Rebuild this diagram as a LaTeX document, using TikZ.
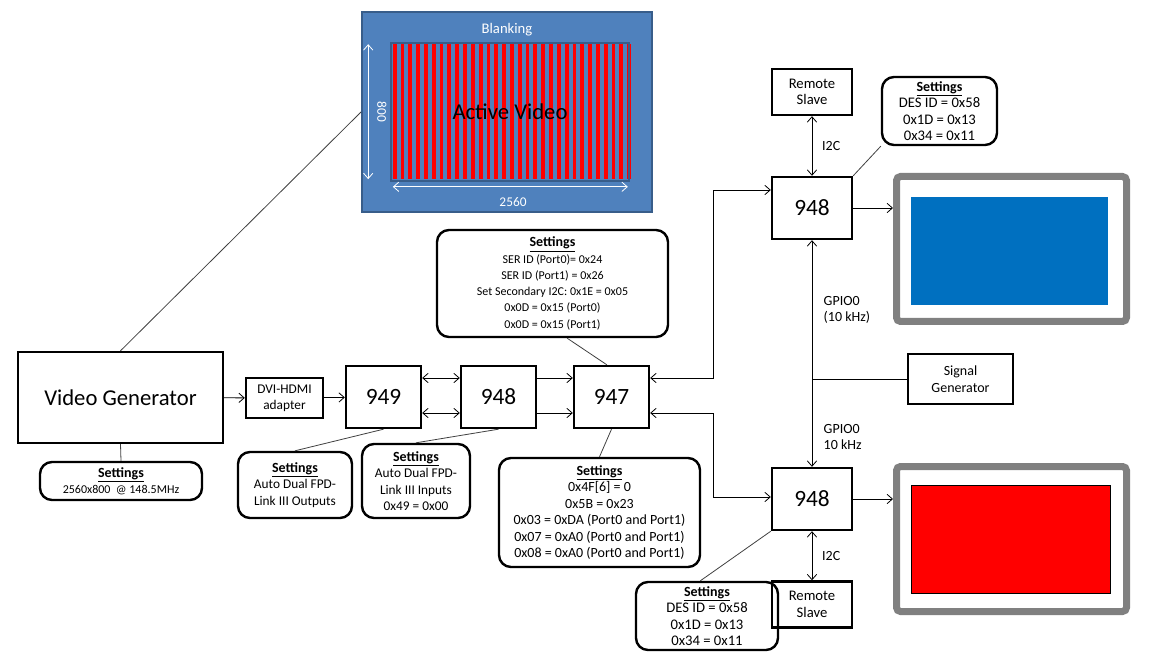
\documentclass[tikz,border=0pt]{standalone}
\usepackage{fontspec}
\setmainfont{Carlito}
\usetikzlibrary{arrows.meta,positioning,calc}

\definecolor{frameblue}{HTML}{4F81BD}
\definecolor{frameedge}{HTML}{385D8A}
\definecolor{screenblue}{HTML}{0070C0}
\definecolor{bezelgray}{HTML}{808080}

\newcommand{\sethead}{{\fontsize{10.5}{12.5}\selectfont\textbf{\underline{Settings}}}\\}

\begin{document}
\begin{tikzpicture}[
  x=0.75pt, y=0.75pt,
  blk/.style={rectangle,draw,line width=1.8pt,align=center},
  chip/.style={blk,minimum width=56.25pt,minimum height=46.5pt,font=\fontsize{17.5}{20}\selectfont},
  slave/.style={blk,minimum width=60pt,minimum height=34.5pt,font=\fontsize{11}{12.5}\selectfont},
  cfg/.style={rectangle,rounded corners=9pt,draw,line width=1.8pt,align=center,inner sep=2pt,font=\fontsize{9}{12.2}\selectfont},
  note/.style={font=\fontsize{10.5}{12.5}\selectfont,align=left,anchor=west},
  bezel/.style={rectangle,draw=bezelgray,line width=5.25pt,rounded corners=3pt,minimum width=172.5pt,minimum height=108.75pt},
  arr/.style={-{Straight Barb[length=4pt,width=7pt]},line width=0.6pt},
  darr/.style={{Straight Barb[length=4pt,width=7pt]}-{Straight Barb[length=4pt,width=7pt]},line width=0.6pt},
  lnk/.style={draw=black!75,line width=0.6pt}
]
\useasboundingbox (0,0) rectangle (1167,-666);

% video frame
\node[rectangle,draw=frameedge,fill=frameblue,line width=1.5pt,minimum width=217.5pt,minimum height=150pt] (frame) at (507,-112) {};
\foreach \i in {0,...,30}
  \fill[red] (392.7+\i*7.82,-44.5) rectangle ++(3.8,-135);
\node[rectangle,draw=frameedge,line width=1.2pt,minimum width=178.5pt,minimum height=103.5pt,font=\fontsize{17}{20}\selectfont] (active) at (510,-112) {Active Video};
\node[white,font=\fontsize{11}{13}\selectfont] (blank) at (507,-30) {Blanking};
\draw[white,darr] ([xshift=-16.5pt,yshift=-1.5pt]active.north west) -- ([xshift=-16.5pt,yshift=2pt]active.south west);
\draw[white,darr] ([xshift=2pt,yshift=-3.75pt]active.south west) -- ([xshift=-1.5pt,yshift=-3.75pt]active.south east);
\node[white,rotate=-90,font=\fontsize{10}{12}\selectfont] (vres) at (382,-112) {800};
\node[white,font=\fontsize{10}{12}\selectfont] (hres) at (513,-202) {2560};

% source side
\node[blk,minimum width=153.75pt,minimum height=68.25pt,font=\fontsize{17}{20}\selectfont] (vg) at (120.5,-397.5) {Video Generator};
\node[cfg,minimum width=121.5pt,minimum height=28.5pt] (svg) at (121,-481) {\sethead 2560x800~~@ 148.5MHz};
\node[blk,minimum width=57.75pt,minimum height=30pt,font=\fontsize{10}{12}\selectfont] (dvi) at (284.5,-398) {DVI-HDMI\\adapter};
\node[chip] (n949) at (383.5,-397) {949};
\node[chip] (n948) at (498.5,-397) {948};
\node[chip] (n947) at (611.5,-397) {947};

\node[cfg,minimum width=173.25pt,minimum height=80.25pt] (s947t) at (552.5,-283.5) {\sethead SER ID (Port0)= 0x24\\SER ID (Port1) = 0x26\\Set Secondary I2C: 0x1E = 0x05\\0x0D = 0x15 (Port0)\\0x0D = 0x15 (Port1)};
\node[cfg,minimum width=85.5pt,minimum height=49.5pt,font=\fontsize{10}{12.4}\selectfont] (s949) at (295,-485) {\sethead Auto Dual FPD-\\Link III Outputs};
\node[cfg,minimum width=81pt,minimum height=55.5pt,font=\fontsize{10}{12.4}\selectfont] (s948) at (416,-481) {\sethead Auto Dual FPD-\\Link III Inputs\\0x49 = 0x00};
\node[cfg,minimum width=150.75pt,minimum height=81.75pt,font=\fontsize{10.5}{12.4}\selectfont] (s947) at (599.5,-512.5) {\sethead 0x4F[6] = 0\\0x5B = 0x23\\0x03 = 0xDA (Port0 and Port1)\\0x07 = 0xA0 (Port0 and Port1)\\0x08 = 0xA0 (Port0 and Port1)};

% display side
\node[chip,minimum width=60pt] (r1) at (812,-208) {948};
\node[slave] (rs1) at (812,-92) {Remote\\Slave};
\node[cfg,minimum width=86.25pt,minimum height=51pt,font=\fontsize{11}{12.4}\selectfont] (sr1) at (939.5,-111) {\sethead DES ID = 0x58\\0x1D = 0x13\\0x34 = 0x11};
\node[blk,minimum width=78.75pt,minimum height=37.5pt,font=\fontsize{10.5}{12.5}\selectfont] (sg) at (960.5,-379) {Signal\\Generator};
\node[chip,minimum width=60pt] (r2) at (812,-499) {948};
\node[slave] (rs2) at (812,-604.5) {Remote\\Slave};
\node[cfg,minimum width=106.5pt,minimum height=51pt,font=\fontsize{11}{12.4}\selectfont] (sr2) at (707,-616) {\sethead DES ID = 0x58\\0x1D = 0x13\\0x34 = 0x11};

\node[bezel] (mon1) at (1011.5,-249) {};
\node[rectangle,fill=screenblue,minimum width=147.75pt,minimum height=81pt] (scr1) at (1009.5,-251) {};
\node[bezel] (mon2) at (1011.5,-539) {};
\node[rectangle,draw,fill=red,line width=0.6pt,minimum width=149.25pt,minimum height=81pt] (scr2) at (1010.5,-539) {};

% links
\draw[lnk] (vg.north) -- (frame.west);
\draw[lnk] (vg.south) -- (svg.north);
\draw[arr] (vg) -- (dvi);
\draw[arr] (dvi) -- (n949);
\draw[darr] ([yshift=14.25pt]n949.east) -- ([yshift=14.25pt]n948.west);
\draw[darr] ([yshift=-12pt]n949.east) -- ([yshift=-12pt]n948.west);
\draw[arr] ([yshift=14.25pt]n948.east) -- ([yshift=14.25pt]n947.west);
\draw[arr] ([yshift=-12pt]n948.east) -- ([yshift=-12pt]n947.west);
\draw[lnk] (n949.south) -- (s949.north);
\draw[lnk] (n948.south) -- (s948.north);
\draw[lnk] (n947.south) -- (s947.north);
\draw[lnk] ([xshift=11pt]s947t.south) -- ([xshift=-3.5pt]n947.north);

\coordinate (jt) at (713,-190);
\coordinate (jb) at (713,-497);
\draw[darr] ([yshift=14.25pt]n947.east) -| (jt) -- (r1.west |- jt);
\draw[darr] ([yshift=-12pt]n947.east) -| (jb) -- (r2.west |- jb);

\draw[darr] (r1.north) -- (rs1.south) node[note,midway,xshift=4pt] {I2C};
\draw[darr] (r2.south) -- (rs2.north) node[note,midway,xshift=4pt] {I2C};
\draw[lnk] (sr1.south west) -- (r1.north east);
\draw[lnk] ([xshift=-5pt]sr2.north) -- (r2.south west);

\coordinate (gj) at (r1.south |- sg.west);
\draw[arr] (gj) -- (r1.south);
\draw[arr] (gj) -- (r2.north);
\draw[line width=0.6pt] (gj) -- (sg.west);
\node[note] (g1) at (819,-310) {GPIO0\\(10 kHz)};
\node[note] (g2) at (819,-437) {GPIO0\\10 kHz};

\draw[arr] (r1.east) -- (r1.east -| mon1.west);
\draw[arr] (r2.east) -- (r2.east -| mon2.west);
\end{tikzpicture}
\end{document}
